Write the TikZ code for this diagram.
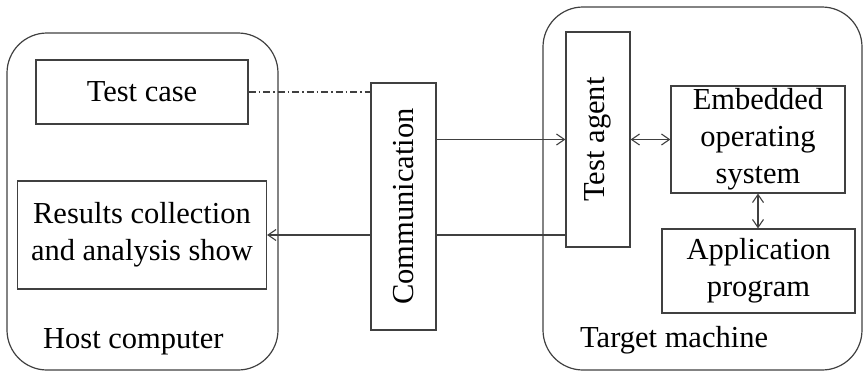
\documentclass[tikz,border=0pt]{standalone}
\usepackage{fontspec}
\usepackage{graphicx}
\setmainfont{Liberation Serif}
\usetikzlibrary{arrows.meta}

\tikzset{
  block/.style={draw=black!75, line width=1.2pt, fill=white, align=center,
    inner sep=0pt, font=\fontsize{30.5}{37}\selectfont},
  panel/.style={draw=black!75, line width=1.2pt, rounded corners=40pt},
  link/.style={draw=black!75, line width=1.1pt},
  tag/.style={anchor=base west, inner sep=0pt, font=\fontsize{30.5}{37}\selectfont},
  >={Straight Barb[length=8pt,width=11pt]}
}

\begin{document}
\begin{tikzpicture}[x=1pt, y=-1pt]

    \useasboundingbox (0,0) rectangle (863,373);

    % Host and target frames
    \draw[panel] (7,33) rectangle (278,370);
    \draw[panel] (543,7) rectangle (862,370);

    % Host side
    \node[block, minimum width=212pt, minimum height=64pt] (tcase) at (142,92) {Test case};
    \node[block, minimum width=249pt, minimum height=108pt] (results) at (142,235)
      {Results collection\\and analysis show};
    \node[tag] (hostlbl) at (43,348) {Host computer};

    % Link in the middle
    \node[block, minimum width=65pt, minimum height=247pt] (comm) at (403.5,206.5)
      {\rotatebox{90}{Communication}};

    % Target side
    \node[block, minimum width=64pt, minimum height=215pt] (agent) at (598,139.5)
      {\rotatebox{90}{Test agent}};
    \node[block, minimum width=174pt, minimum height=107pt] (eos) at (758,139.5)
      {Embedded\\operating\\system};
    \node[block, minimum width=193pt, minimum height=84pt] (app) at (758.5,271)
      {Application\\program};
    \node[tag] (targetlbl) at (580,347) {Target machine};

    % Connections
    \draw[link, dash pattern=on 7pt off 3pt on 1.5pt off 3pt] (tcase.east) -- (tcase.east -| comm.west);
    \draw[link, ->] (comm.east |- agent.west) -- (agent.west);
    \draw[link] (results.east -| agent.west) -- (comm.east |- results.east);
    \draw[link, ->] (comm.west |- results.east) -- (results.east);
    \draw[link, <->] (agent.east |- eos.west) -- (eos.west);
    \draw[link, <->] (eos.south) -- (eos.south |- app.north);

  \end{tikzpicture}
\end{document}
